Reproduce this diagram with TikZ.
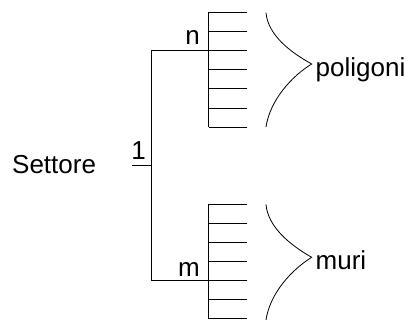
\documentclass[tikz,border=0pt]{standalone}
\usepackage{fontspec}
\setmainfont{Liberation Sans}
\begin{document}
\begin{tikzpicture}[x=1pt,y=-1pt,
  line/.style={line width=1pt,black},
  lbl/.style={inner sep=0pt,anchor=base,font=\fontsize{26}{30}\selectfont},
  lblw/.style={inner sep=0pt,anchor=base west,font=\fontsize{26}{30}\selectfont}]
\useasboundingbox (0,0) rectangle (410,320);
% text nodes
\node[lblw] (settore) at (12,173.5) {Settore};
\node[lbl] (one) at (138.5,160) {1};
\node[lbl] (n) at (192.5,44.3) {n};
\node[lbl] (m) at (189,276.7) {m};
\node[lblw] (poligoni) at (315.5,76.7) {poligoni};
\node[lblw] (muri) at (315.5,270) {muri};
% junction coordinates
\coordinate (s0) at (131.7,165.7);
\coordinate (s1) at (151,165.7);
\coordinate (top) at (151,50.5);
\coordinate (bot) at (151,280.7);
\coordinate (tA) at (208.7,50.5);
\coordinate (bA) at (208.7,280.7);
% main tree
\draw[line] (s0) -- (s1);
\draw[line] (top) -- (bot);
\draw[line] (top) -- (tA);
\draw[line] (bot) -- (bA);
% top bracket
\draw[line] (208.7,12.2) -- (208.7,127.2);
\foreach \k in {0,...,6}{
  \draw[line] (208.7,12.2+19.17*\k) -- (246.7,12.2+19.17*\k);
}
% bottom bracket
\draw[line] (208.7,204.3) -- (208.7,318.9);
\foreach \k in {0,...,6}{
  \draw[line] (208.7,204.3+19.1*\k) -- (246.7,204.3+19.1*\k);
}
% braces
\coordinate (ptip) at (311.7,64);
\coordinate (mtip) at (311.7,257.3);
\draw[line width=0.8pt] (266,12.7) .. controls (268,35) and (290,52) .. (ptip)
  .. controls (292,76) and (270,100) .. (266,127);
\draw[line width=0.8pt] (266,204.5) .. controls (268,227) and (290,245) .. (mtip)
  .. controls (292,269.5) and (270,293) .. (266,320);
\end{tikzpicture}
\end{document}
